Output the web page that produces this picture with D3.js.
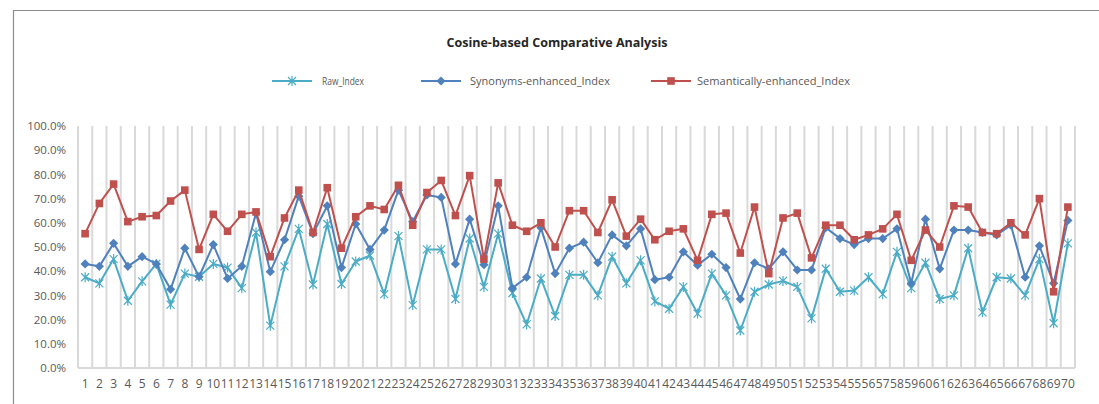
<!DOCTYPE html>
<html><head><meta charset="utf-8">
<script src="https://cdn.jsdelivr.net/npm/d3@7"></script>
<style>
html,body{margin:0;padding:0;background:#fff;}
svg{display:block;font-family:"Open Sans","Noto Sans",sans-serif;}
</style></head>
<body><svg id="chart" width="1099" height="404"></svg>
<script>
const categories = d3.range(1, 71).map(String);
const yTicks = [0,0.1,0.2,0.3,0.4,0.5,0.6,0.7,0.8,0.9,1.0];
const seriesNames = ["Raw_Index","Synonyms-enhanced_Index","Semantically-enhanced_Index"];
const rawIndex = [
 37.5,35,45,27.8,35.8,43,26.2,39,37.7,43,
 41.5,33,56,17.5,42,57.5,34.5,59.5,34.7,44,
 46.5,30.5,54.5,26,49,49,28.5,53.5,33.5,55.5,
 31,18,37,21.5,38.5,38.5,30,46,35,44.5,
 27.5,24.5,33.5,22.5,39,30,15.5,31.5,34.5,36,
 33.5,20.5,41,31.5,32,37.5,30.5,48,33,43.5,
 28.5,30,49.5,23,37.5,37,30,45,18.5,51.5];
const synonymsIndex = [
 43,42,51.5,42,46,43,32.5,49.5,37.7,51,
 37,42,64,39.8,53,71,55.5,67,41.5,59.5,
 49,57,73.5,60.5,71.5,70.5,43,61.5,42.7,67,
 33,37.5,58,39,49.5,52,43.5,55,50.5,57.5,
 36.5,37.5,48,42.5,47,41.5,28.5,43.5,41,48,
 40.5,40.5,58,53.5,51,53.5,53.5,57.5,35,61.5,
 41,57,57,56,55,59,37.5,50.5,35,61];
const semanticIndex = [
 55.5,68,76,60.5,62.5,63,69,73.5,49,63.5,
 56.5,63.5,64.5,46,62,73.5,56,74.5,49.5,62.5,
 67,65.5,75.5,59,72.5,77.5,63,79.5,45,76.5,
 59,56.5,60,50,65,65,56,69.5,54.5,61.5,
 53,56.5,57.5,44.5,63.5,64,47.5,66.5,39,62,
 64,45.5,59,59,53,55,57.5,63.5,44.5,57,
 50,67,66.5,56,55.5,60,55,70,31.5,66.5];

const colors = ["#4bacc6","#4f81bd","#c0504d"];
const svg = d3.select("#chart");

// frame
svg.append("path").attr("d","M13.5,410 L13.5,10.5 L1105,10.5")
  .attr("fill","none").attr("stroke","#8c8c8c").attr("stroke-width",1.2);

const x = d3.scaleBand().domain(categories).range([78,1075]).padding(0);
const y = d3.scaleLinear().domain([0,1]).range([368,126]);

// vertical gridlines at band boundaries
const bounds = categories.map(c => x(c)).concat([x.range()[1]]);
svg.append("g").selectAll("line").data(bounds).join("line")
  .attr("x1",d=>d).attr("x2",d=>d).attr("y1",y(1)).attr("y2",y(0))
  .attr("stroke","#d9d9d9").attr("stroke-width",2);
svg.append("line").attr("x1",x.range()[0]).attr("x2",x.range()[1])
  .attr("y1",y(0)).attr("y2",y(0)).attr("stroke","#d9d9d9").attr("stroke-width",2);

// y axis labels
const yAxis = d3.axisLeft(y).tickValues(yTicks).tickFormat(d3.format(".1%")).tickSize(0).tickPadding(12);
const yg = svg.append("g").attr("transform",`translate(${x.range()[0]},0)`).call(yAxis);
yg.select(".domain").remove();
yg.selectAll("text").attr("fill","#595959").style("font-size","11.5px").style("font-family","'Open Sans',sans-serif");

// x axis labels
const xAxis = d3.axisBottom(x).tickSize(0).tickPadding(11);
const xg = svg.append("g").attr("transform",`translate(0,${y(0)})`).call(xAxis);
xg.select(".domain").remove();
xg.selectAll("text").attr("fill","#595959").style("font-size","12px").style("font-family","'Open Sans',sans-serif");

// title
svg.append("text").attr("x",557).attr("y",47).attr("text-anchor","middle")
  .attr("font-weight","bold").attr("font-size","13px").attr("fill","#262626")
  .attr("textLength",221).attr("lengthAdjust","spacingAndGlyphs")
  .text("Cosine-based Comparative Analysis");

function drawMarker(g, type, color){
  if(type===0){
    g.append("path").attr("d","M-4,-4L4,4M-4,4L4,-4M0,-5L0,5")
      .attr("stroke",color).attr("stroke-width",1.2).attr("fill","none");
  } else if(type===1){
    g.append("path").attr("d","M0,-4.6L4.6,0L0,4.6L-4.6,0Z").attr("fill",color);
  } else {
    g.append("rect").attr("x",-3.8).attr("y",-3.8).attr("width",7.6).attr("height",7.6)
      .attr("fill",color);
  }
}

const allSeries = [rawIndex, synonymsIndex, semanticIndex];
const line = d3.line().x((d,i)=>x(categories[i])+x.bandwidth()/2).y(d=>y(d/100));
allSeries.forEach((vals,si)=>{
  svg.append("path").datum(vals).attr("d",line).attr("fill","none")
    .attr("stroke",colors[si]).attr("stroke-width",2).attr("stroke-linejoin","round");
  vals.forEach((v,i)=>{
    const g = svg.append("g").attr("transform",`translate(${x(categories[i])+x.bandwidth()/2},${y(v/100)})`);
    drawMarker(g, si, colors[si]);
  });
});

// legend
const legendItems = [
  {x0:272, tx:322, tl:42},
  {x0:421, tx:470, tl:140},
  {x0:651, tx:697, tl:153}
];
legendItems.forEach((it,i)=>{
  svg.append("line").attr("x1",it.x0).attr("x2",it.x0+40).attr("y1",81).attr("y2",81)
    .attr("stroke",colors[i]).attr("stroke-width",2);
  const g = svg.append("g").attr("transform",`translate(${it.x0+20},81)`);
  drawMarker(g,i,colors[i]);
  svg.append("text").attr("x",it.tx).attr("y",85).attr("font-size","11.5px").attr("fill","#595959")
    .attr("textLength",it.tl).attr("lengthAdjust","spacingAndGlyphs").text(seriesNames[i]);
});
</script></body></html>
